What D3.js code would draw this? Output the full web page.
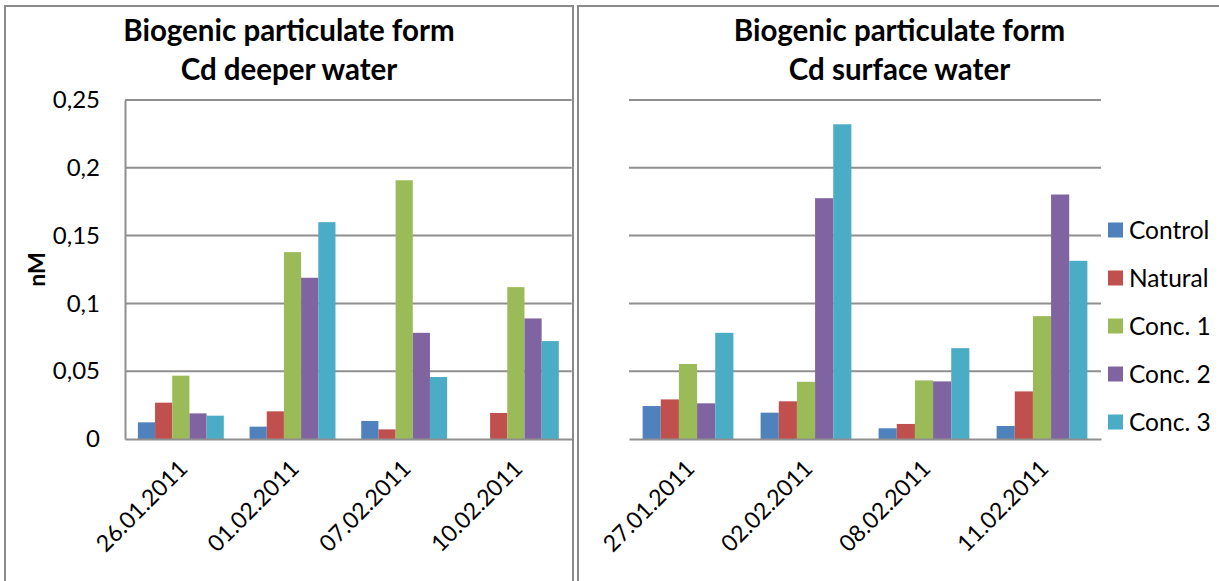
<!DOCTYPE html>
<html>
<head>
<meta charset="utf-8">
<script src="https://cdn.jsdelivr.net/npm/d3@7"></script>
<style>
  html, body { margin: 0; padding: 0; background: #fff; }
  svg { display: block; }
  text { font-family: Lato, "Open Sans", "DejaVu Sans", sans-serif; fill: #000; }
</style>
</head>
<body>
<svg id="chart" width="1219" height="581"></svg>
<script>
// Sampling dates for each water layer
const deeperDates = ["26.01.2011", "01.02.2011", "07.02.2011", "10.02.2011"];
const surfaceDates = ["27.01.2011", "02.02.2011", "08.02.2011", "11.02.2011"];

// Treatments (series)
const seriesNames = ["Control", "Natural", "Conc. 1", "Conc. 2", "Conc. 3"];
const seriesColors = ["#4F81BD", "#C0504D", "#9BBB59", "#8064A2", "#4BACC6"];

// Biogenic particulate Cd, deeper water (nM), one array per treatment
const deeperControl = [0.0123, 0.0091, 0.0133, 0];
const deeperNatural = [0.0268, 0.0204, 0.0071, 0.0192];
const deeperConc1   = [0.0467, 0.1378, 0.1908, 0.1120];
const deeperConc2   = [0.0189, 0.1189, 0.0783, 0.0889];
const deeperConc3   = [0.0172, 0.1599, 0.0457, 0.0722];

// Biogenic particulate Cd, surface water (nM)
const surfaceControl = [0.0243, 0.0194, 0.0079, 0.0096];
const surfaceNatural = [0.0292, 0.0278, 0.0111, 0.0351];
const surfaceConc1   = [0.0553, 0.0422, 0.0432, 0.0906];
const surfaceConc2   = [0.0263, 0.1776, 0.0425, 0.1803];
const surfaceConc3   = [0.0783, 0.2321, 0.0670, 0.1314];

// Value axis ticks and their labels (decimal comma)
const yTicks = [0, 0.05, 0.1, 0.15, 0.2, 0.25];
const yTickLabels = ["0", "0,05", "0,1", "0,15", "0,2", "0,25"];

const svg = d3.select("#chart");
const gridColor = "#8f8f8f";
const frameColor = "#8a8a8a";

const y = d3.scaleLinear().domain([0, 0.25]).range([439, 100]);

function panel(opts) {
  const g = svg.append("g");

  // chart frame
  g.append("rect")
    .attr("x", opts.frame[0]).attr("y", opts.frame[1])
    .attr("width", opts.frame[2]).attr("height", opts.frame[3])
    .attr("fill", "none").attr("stroke", frameColor).attr("stroke-width", 2);

  // title (two lines)
  const cx = opts.frame[0] + opts.frame[2] / 2;
  opts.title.forEach((t, i) => {
    g.append("text")
      .attr("x", cx).attr("y", 41 + i * 39)
      .attr("text-anchor", "middle")
      .attr("font-size", 29.5).attr("font-weight", "bold")
      .text(t);
  });

  const x0 = d3.scaleBand().domain(opts.dates).range(opts.xRange)
    .paddingInner(1.5 / 6.5).paddingOuter(0.75 / 6.5);
  const x1 = d3.scaleBand().domain(seriesNames).range([0, x0.bandwidth()]);

  // horizontal gridlines
  g.append("g").selectAll("line")
    .data(yTicks.slice(1))
    .join("line")
    .attr("x1", opts.xRange[0]).attr("x2", opts.xRange[1])
    .attr("y1", d => y(d)).attr("y2", d => y(d))
    .attr("stroke", gridColor).attr("stroke-width", 2);

  // bars
  const groups = g.append("g").selectAll("g")
    .data(opts.dates.map((d, i) => ({ date: d, values: opts.values.map(s => s[i]) })))
    .join("g")
    .attr("transform", d => `translate(${x0(d.date)},0)`);

  groups.selectAll("rect")
    .data(d => d.values.map((v, k) => ({ name: seriesNames[k], value: v, color: seriesColors[k] })))
    .join("rect")
    .attr("x", d => x1(d.name))
    .attr("width", x1.bandwidth())
    .attr("y", d => y(d.value))
    .attr("height", d => y(0) - y(d.value))
    .attr("fill", d => d.color);

  // category axis with slanted date labels
  const xAxis = d3.axisBottom(x0).tickSize(0).tickSizeOuter(0).tickPadding(0);
  const xg = g.append("g").attr("transform", `translate(0,${y(0)})`).call(xAxis);
  xg.select(".domain").attr("stroke", gridColor).attr("stroke-width", 2);
  xg.selectAll(".tick text")
    .attr("font-size", 23)
    .attr("font-family", "Lato, sans-serif")
    .attr("fill", "#000")
    .attr("text-anchor", "end")
    .attr("dy", 0)
    .attr("transform", "translate(8,31) rotate(-45)");

  if (opts.valueAxis) {
    const yAxis = d3.axisLeft(y).tickValues(yTicks)
      .tickFormat((d, i) => yTickLabels[i]).tickSize(0).tickPadding(25);
    const yg = g.append("g").attr("transform", `translate(${opts.xRange[0]},0)`).call(yAxis);
    yg.select(".domain").attr("stroke", gridColor).attr("stroke-width", 2);
    yg.selectAll(".tick text")
      .attr("font-size", 24)
      .attr("font-family", "Lato, sans-serif")
      .attr("fill", "#000");

    g.append("text")
      .attr("transform", `translate(45,${(y(0) + y(0.25)) / 2}) rotate(-90)`)
      .attr("text-anchor", "middle")
      .attr("font-size", 23).attr("font-weight", "bold")
      .text("nM");
  }

  if (opts.legend) {
    const lg = g.append("g");
    seriesNames.forEach((name, k) => {
      const cy = 230 + k * 48;
      lg.append("rect")
        .attr("x", 1108).attr("y", cy - 7.5)
        .attr("width", 15).attr("height", 15)
        .attr("fill", seriesColors[k]);
      lg.append("text")
        .attr("x", 1129).attr("y", cy)
        .attr("dy", "0.35em")
        .attr("font-size", 24.5)
        .text(name);
    });
  }
}

panel({
  frame: [5, 6, 568, 600],
  title: ["Biogenic particulate form", "Cd deeper water"],
  dates: deeperDates,
  values: [deeperControl, deeperNatural, deeperConc1, deeperConc2, deeperConc3],
  xRange: [125, 571.7],
  valueAxis: true,
  legend: false
});

panel({
  frame: [578, 6, 643, 600],
  title: ["Biogenic particulate form", "Cd surface water"],
  dates: surfaceDates,
  values: [surfaceControl, surfaceNatural, surfaceConc1, surfaceConc2, surfaceConc3],
  xRange: [629, 1101],
  valueAxis: false,
  legend: true
});
</script>
</body>
</html>
